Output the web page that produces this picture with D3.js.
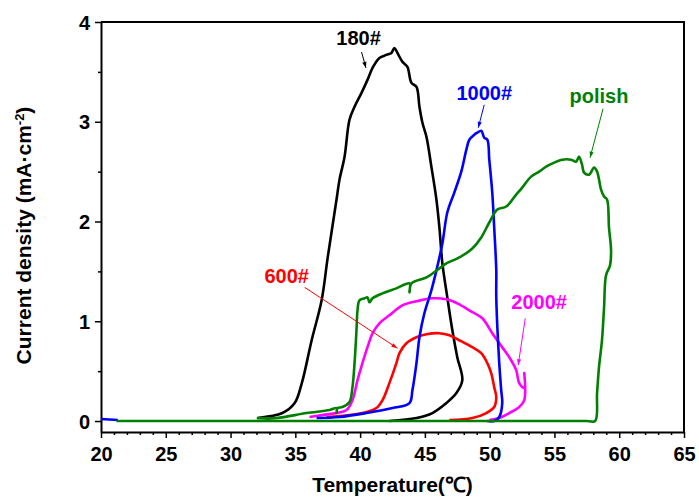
<!DOCTYPE html>
<head>
    <meta charset="utf-8">
    <script src="https://cdn.jsdelivr.net/npm/d3@7"></script>
    <style>
        body { margin: 0; background: white; }
        text { font-family: "Liberation Sans", Arial, sans-serif; font-weight: bold; }
        .curve { fill: none; stroke-width: 2.6px; stroke-linejoin: round; }
    </style>
</head>

<body>
<script>

    // temperature (C) and current density (mA/cm2)
    var blackT = [32.1, 34.0, 34.95, 35.5, 36.26, 37.03, 37.5, 38.18, 38.41, 38.8, 39.18, 39.57, 40.11, 40.57, 40.96, 41.49, 42.03, 42.42, 42.65, 42.88, 43.27, 43.65, 43.96, 44.35, 44.58, 44.81, 45.12, 45.5, 45.89, 46.12, 46.35, 46.73, 47.12, 47.5, 47.89, 47.43, 46.66, 45.58, 44.35, 42.26];
    var blackI = [0.03, 0.08, 0.18, 0.38, 0.81, 1.21, 1.64, 2.22, 2.42, 2.65, 3.02, 3.15, 3.29, 3.42, 3.54, 3.64, 3.67, 3.69, 3.74, 3.69, 3.6, 3.55, 3.39, 3.35, 3.15, 2.99, 2.85, 2.55, 2.22, 1.94, 1.58, 1.24, 0.91, 0.64, 0.41, 0.28, 0.18, 0.08, 0.03, 0.0];

    var redT = [37.41, 39.18, 40.49, 41.26, 41.73, 42.26, 42.8, 43.04, 43.57, 44.35, 45.12, 46.12, 46.89, 47.66, 48.66, 49.35, 49.82, 50.12, 50.35, 50.51, 50.35, 49.74, 48.66, 46.89];
    var redI = [0.04, 0.06, 0.09, 0.13, 0.21, 0.38, 0.58, 0.68, 0.78, 0.84, 0.87, 0.88, 0.86, 0.81, 0.74, 0.68, 0.58, 0.48, 0.34, 0.24, 0.14, 0.08, 0.03, 0.01];

    var magentaT = [36.1, 37.1, 38.18, 38.95, 39.41, 39.8, 40.18, 40.57, 40.96, 41.49, 42.26, 43.27, 44.35, 45.58, 46.66, 47.66, 48.43, 49.43, 50.2, 50.97, 51.51, 52.05, 52.28, 52.67, 52.67, 52.67, 52.28, 51.51, 50.74, 49.97];
    var magentaI = [0.04, 0.06, 0.08, 0.11, 0.21, 0.41, 0.58, 0.74, 0.88, 0.98, 1.06, 1.16, 1.2, 1.23, 1.22, 1.17, 1.11, 1.03, 0.88, 0.74, 0.64, 0.51, 0.38, 0.33, 0.48, 0.21, 0.14, 0.08, 0.03, 0.01];

    var blueT = [36.64, 38.41, 40.49, 42.5, 43.81, 44.04, 44.35, 44.58, 44.96, 45.5, 45.89, 46.35, 46.73, 47.27, 47.81, 48.2, 48.43, 48.81, 49.04, 49.35, 49.58, 49.82, 49.97, 50.2, 50.35, 50.51, 50.51, 50.74, 50.89, 50.97, 50.74, 50.35, 49.8];
    var blueI = [0.03, 0.04, 0.08, 0.13, 0.18, 0.31, 0.58, 0.84, 1.08, 1.31, 1.51, 1.78, 2.09, 2.29, 2.5, 2.72, 2.82, 2.87, 2.89, 2.91, 2.84, 2.82, 2.62, 2.29, 1.94, 1.51, 1.24, 0.58, 0.31, 0.18, 0.04, 0.0, 0.0];
    // short blue piece visible at the left end of the baseline
    var blueStartT = [20.0, 21.3];
    var blueStartI = [0.02, 0.01];

    var greenT = [32.02, 33.56, 35.87, 37.64, 38.18, 38.18, 38.26, 38.64, 39.18, 39.41, 39.57, 39.72, 39.8, 39.95, 40.34, 40.57, 40.72, 40.96, 41.73, 42.8, 43.81, 43.81, 43.96, 45.12, 46.12, 46.66, 47.66, 48.66, 49.35, 49.97, 50.59, 51.28, 52.05, 52.51, 53.2, 53.82, 54.36, 54.98, 55.59, 56.29, 56.67, 56.9, 57.13, 57.29, 57.67, 58.06, 58.29, 58.6, 58.83, 59.06, 59.21, 59.37, 59.29, 58.98, 58.83, 58.67, 58.44, 58.29, 58.14, 57.5, 21.2];
    var greenI = [0.03, 0.03, 0.08, 0.11, 0.13, 0.08, 0.13, 0.14, 0.19, 0.34, 0.58, 0.91, 1.11, 1.21, 1.23, 1.24, 1.19, 1.23, 1.28, 1.33, 1.38, 1.29, 1.38, 1.44, 1.53, 1.58, 1.64, 1.73, 1.84, 1.99, 2.12, 2.15, 2.27, 2.34, 2.45, 2.5, 2.55, 2.59, 2.62, 2.62, 2.6, 2.65, 2.57, 2.49, 2.47, 2.54, 2.5, 2.32, 2.25, 2.22, 1.94, 1.71, 1.56, 1.46, 1.14, 0.81, 0.54, 0.28, 0.0, 0.0, 0.0];

    var xTicks = [20, 25, 30, 35, 40, 45, 50, 55, 60, 65];
    var yTicks = [0, 1, 2, 3, 4];

    // label text, anchor point of the label and arrow start/end, all in data units
    var labelText = ["180#", "1000#", "polish", "600#", "2000#"];
    var labelColor = ["#000000", "#0000ff", "#008000", "#ff0000", "#ff00ff"];
    var labelPos = [[39.88, 3.77], [49.58, 3.22], [58.44, 3.19], [34.33, 1.38], [53.82, 1.12]];
    var arrowFrom = [[40.11, 3.70], [49.58, 3.17], [58.75, 3.13], [35.72, 1.34], [52.75, 1.03]];
    var arrowTo = [[40.45, 3.54], [49.12, 2.94], [57.75, 2.64], [42.88, 0.73], [52.2, 0.56]];

    var svg = d3.select("body").append("svg")
        .attr("width", 699)
        .attr("height", 497);

    var x = d3.scaleLinear().domain([20, 65]).range([101, 684]);
    var y = d3.scaleLinear().domain([-0.11, 4]).range([432, 22]);

    // frame (top and right)
    svg.append("path")
        .attr("d", "M" + x(20) + "," + y(4) + "H" + x(65) + "V" + y(-0.11))
        .attr("fill", "none").attr("stroke", "black").attr("stroke-width", 2);

    var xAxis = svg.append("g").attr("transform", "translate(0," + y(-0.11) + ")")
        .call(d3.axisBottom(x).tickValues(xTicks).tickSize(6).tickSizeOuter(0).tickFormat(d3.format("d")));
    svg.append("g").attr("transform", "translate(0," + y(-0.11) + ")")
        .call(d3.axisBottom(x).tickValues(d3.range(21, 65).filter(function(d) { return d % 5 != 0; }))
            .tickSize(3).tickSizeOuter(0).tickFormat(""))
        .select(".domain").remove();

    var yAxis = svg.append("g").attr("transform", "translate(" + x(20) + ",0)")
        .call(d3.axisLeft(y).tickValues(yTicks).tickSize(6).tickSizeOuter(0).tickFormat(d3.format("d")));
    svg.append("g").attr("transform", "translate(" + x(20) + ",0)")
        .call(d3.axisLeft(y).tickValues([0.5, 1.5, 2.5, 3.5]).tickSize(3).tickSizeOuter(0).tickFormat(""))
        .select(".domain").remove();

    svg.selectAll(".domain").attr("stroke-width", 2);
    svg.selectAll(".tick line").attr("stroke-width", 1.5);
    xAxis.selectAll("text").style("font-size", "20px").attr("dy", "1.0em");
    yAxis.selectAll("text").style("font-size", "20px").attr("dx", "-0.1em").attr("dy", "0.36em");

    svg.append("text")
        .attr("x", (x(20) + x(65)) / 2).attr("y", 492)
        .attr("text-anchor", "middle").style("font-size", "21px")
        .text("Temperature(\u2103)");

    var yt = svg.append("text")
        .attr("transform", "translate(31," + (y(2) + 14) + ") rotate(-90)")
        .attr("text-anchor", "middle").style("font-size", "21px");
    yt.append("tspan").text("Current density (mA\u00b7cm");
    yt.append("tspan").attr("baseline-shift", "super").style("font-size", "13px").text("-2");
    yt.append("tspan").text(")");

    var line = d3.line()
        .curve(d3.curveCatmullRom.alpha(0.5))
        .x(function(d) { return x(d[0]); })
        .y(function(d) { return y(d[1]); });

    function drawCurve(ts, vs, color) {
        var pts = ts.map(function(t, i) { return [t, vs[i]]; });
        svg.append("path").datum(pts).attr("class", "curve").attr("stroke", color).attr("d", line);
    }

    drawCurve(blackT, blackI, "#000000");
    drawCurve(redT, redI, "#ff0000");
    drawCurve(magentaT, magentaI, "#ff00ff");
    drawCurve(blueT, blueI, "#0000ff");
    drawCurve(blueStartT, blueStartI, "#0000ff");
    drawCurve(greenT, greenI, "#008000");

    // arrow heads
    var defs = svg.append("defs");
    labelColor.forEach(function(c, i) {
        defs.append("marker")
            .attr("id", "arr" + i)
            .attr("viewBox", "0 0 10 10").attr("refX", 10).attr("refY", 5)
            .attr("markerWidth", 7).attr("markerHeight", 6)
            .attr("markerUnits", "userSpaceOnUse")
            .attr("orient", "auto")
            .append("path").attr("d", "M0,1.5L10,5L0,8.5z").attr("fill", c);
    });

    labelText.forEach(function(t, i) {
        svg.append("line")
            .attr("x1", x(arrowFrom[i][0])).attr("y1", y(arrowFrom[i][1]))
            .attr("x2", x(arrowTo[i][0])).attr("y2", y(arrowTo[i][1]))
            .attr("stroke", labelColor[i]).attr("stroke-width", 1)
            .attr("marker-end", "url(#arr" + i + ")");
        svg.append("text")
            .attr("x", x(labelPos[i][0])).attr("y", y(labelPos[i][1]))
            .attr("text-anchor", "middle").style("font-size", "20px")
            .attr("fill", labelColor[i])
            .text(t);
    });

</script>
</body>
